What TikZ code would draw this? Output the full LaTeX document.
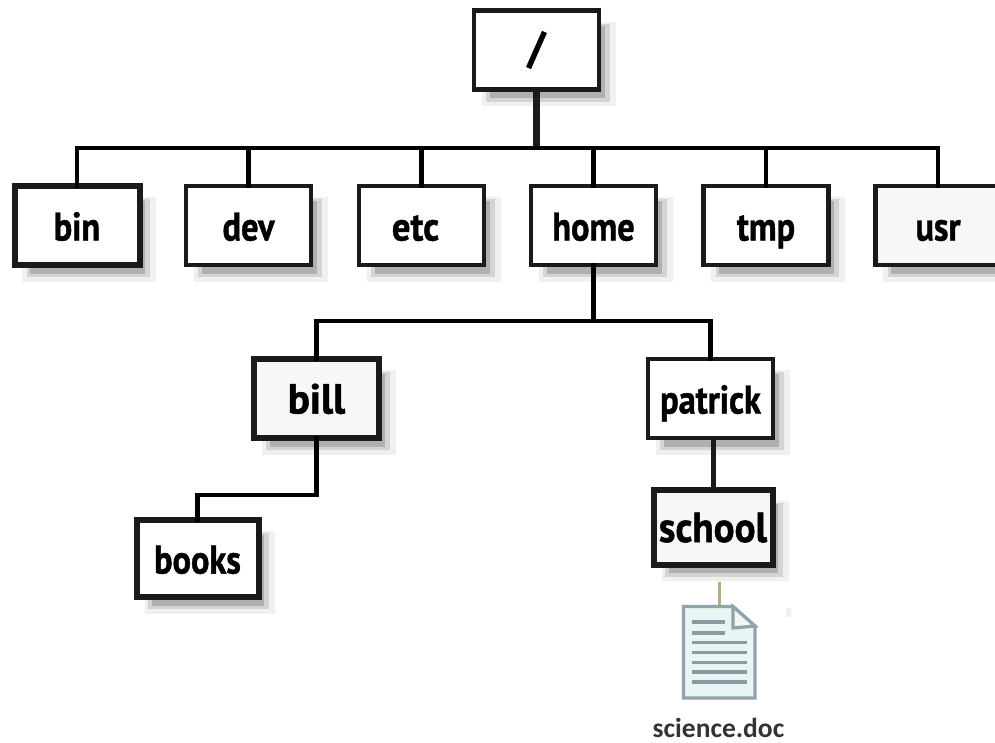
\documentclass[tikz,border=0pt]{standalone}
\usepackage{fontspec}
\setmainfont{PT Sans}
\newfontfamily\capfont{Carlito}
\newfontfamily\labfont[FakeBold=1.2]{PT Sans Bold}
\usetikzlibrary{shadows}
\definecolor{shadeA}{HTML}{F0F0F0}
\definecolor{shadeB}{HTML}{D4D4D4}
\definecolor{shadeC}{HTML}{B0B0B0}
\definecolor{boxline}{HTML}{1A1A1A}
\definecolor{softfill}{HTML}{F7F7F7}
\definecolor{docedge}{HTML}{90A4A9}
\definecolor{docfill}{HTML}{E9F4F4}
\definecolor{tan}{HTML}{B5AE82}
\tikzset{
  x=1pt,y=-1pt,
  dirbox/.style={draw=boxline,line width=4.5pt,fill=white,minimum width=125pt,minimum height=79pt,
    inner sep=0pt,outer sep=0pt,
    font=\labfont\fontsize{40}{44}\selectfont,text=black,
    general shadow={shadow xshift=11.5pt,shadow yshift=-13pt,shadow scale=1.07,fill=shadeA,draw=none},
    general shadow={shadow xshift=11.5pt,shadow yshift=-13pt,shadow scale=0.99,fill=shadeB,draw=none},
    general shadow={shadow xshift=11.5pt,shadow yshift=-13pt,shadow scale=0.92,fill=shadeC,draw=none}},
  named/.style={text height=30pt,text depth=0pt},
  soft/.style={fill=softfill},
  heavy/.style={line width=6pt},
  link/.style={draw=black,line width=4.5pt,line cap=rect,line join=miter},
  trunk/.style={draw=boxline,line width=7pt},
  docline/.style={draw=docedge,line width=3.2pt},
}
\begin{document}
\begin{tikzpicture}
\useasboundingbox (0,0) rectangle (995,742);
\clip (0,0) rectangle (995,742);
\coordinate (busA) at (535,148);
\coordinate (busB) at (592,321);
\coordinate (busC) at (316,495);
\node[dirbox] (root) at (536.5,50) {\fontsize{44}{48}\selectfont /};
\node[dirbox,named,heavy] (bin) at (77,225.5) {\scalebox{.86}[1]{bin}};
\node[dirbox,named] (dev) at (248.5,225.5) {\scalebox{.86}[1]{dev}};
\node[dirbox,named] (etc) at (421.5,225.5) {\hspace*{-12pt}\scalebox{.92}[1]{etc}};
\node[dirbox,named] (home) at (593.5,225.5) {\scalebox{.86}[1]{home}};
\node[dirbox,named] (tmp) at (766,225.5) {\scalebox{.86}[1]{tmp}};
\node[dirbox,named,soft] (usr) at (938,225.5) {\scalebox{.86}[1]{usr}};
\node[dirbox,named,soft,heavy] (bill) at (316.5,398.5) {\fontsize{42}{46}\selectfont\scalebox{.98}[1]{bill}};
\node[dirbox,named] (patrick) at (710.5,398.5) {\scalebox{.86}[1]{patrick}};
\node[dirbox,named,soft,heavy,minimum width=119pt,minimum height=75pt] (school) at (713,527) {\fontsize{42}{46}\selectfont\scalebox{.93}[1]{school}};
\node[dirbox,named,heavy,minimum width=122pt,minimum height=77pt] (books) at (197.5,558.5) {\scalebox{.86}[1]{books}};
\draw[trunk] (root.south) -- (root.south |- busA);
\draw[link] (bin.north) |- (busA);
\draw[link] (dev.north) |- (busA);
\draw[link] (etc.north) |- (busA);
\draw[link] (home.north) |- (busA);
\draw[link] (tmp.north) |- (busA);
\draw[link] (usr.north) |- (busA);
\draw[link] (home.south) -- (home.south |- busB);
\draw[link] (bill.north) |- (busB);
\draw[link] (patrick.north) |- (busB);
\draw[link] (bill.south) |- (busC);
\draw[link] (books.north) |- (busC);
\draw[trunk,line width=5pt] (school.north) -- (school.north |- patrick.south);
% document icon
\coordinate (docTL) at (683.5,606.5);
\coordinate (docFold) at (733,606.5);
\coordinate (docR) at (755,626);
\coordinate (docBR) at (755,698);
\coordinate (docBL) at (683.5,698);
\coordinate (docIn) at (733,628);
\draw[draw=tan,line width=3pt] (719,582) -- (719,605);
\filldraw[docline,fill=docfill,line join=miter] (docTL) -- (docFold) -- (docR) -- (docBR) -- (docBL) -- cycle;
\filldraw[docline,fill=softfill!60!docfill,line join=miter] (docFold) -- (docIn) -- (docR) -- cycle;
\foreach \yy/\xe in {622/725,633/725,642.5/747,652.5/747,662.5/747,672/747,682/747}{
  \draw[docline,draw=docedge!95!black] (692,\yy) -- (\xe,\yy);
}
\fill[shadeA] (786,608) rectangle (791,617);
\node[font=\capfont\bfseries\fontsize{27.5}{30}\selectfont,text=black!80,inner sep=0pt,anchor=base] (cap) at (718.5,737) {science.doc};
\end{tikzpicture}
\end{document}
